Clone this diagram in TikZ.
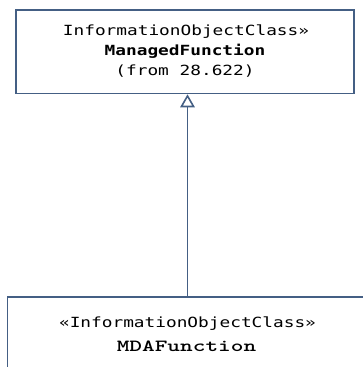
\documentclass[tikz,border=0pt]{standalone}
\usepackage{fontspec}
\setmonofont{DejaVu Sans Mono}[FakeStretch=1.27]
\newfontfamily\courierfont{lmmonolt10-bold.otf}[FakeStretch=1.42]
\usetikzlibrary{positioning, arrows.meta}
\definecolor{umlline}{RGB}{68,95,132}

\begin{document}
\begin{tikzpicture}[x=1pt, y=-1pt, >=latex]
  \tikzstyle{classbox} = [rectangle, draw=umlline, line width=1.6pt, inner sep=0pt]
  \tikzstyle{stereo} = [anchor=base, inner sep=0pt, font=\ttfamily\fontsize{14}{16}\selectfont]
  \tikzstyle{classname} = [anchor=base, inner sep=0pt, font=\ttfamily\bfseries\fontsize{14}{16}\selectfont]
  \tikzstyle{mdaname} = [anchor=base, inner sep=0pt, font=\courierfont\fontsize{17}{19}\selectfont]
  \tikzstyle{generalize} = [draw=umlline, line width=1.6pt, -{Triangle[open, width=14.5pt, length=13pt]}]

  \useasboundingbox (0,0) rectangle (363,367);
  \clip (0,0) rectangle (363,367);

  \node (managed) [classbox, minimum width=338pt, minimum height=83.5pt] at (185,51.75) {};
  \node (managedstereo) [stereo] at (186,35) {InformationObjectClass»};
  \node (managedname) [classname] at (185,55) {ManagedFunction};
  \node (managedfrom) [stereo] at (185,75) {(from 28.622)};

  \node (mda) [classbox, minimum width=392.5pt, minimum height=123pt] at (203.75,358.5) {};
  \node (mdastereo) [stereo] at (187.5,327.5) {«InformationObjectClass»};
  \node (mdaname) [mdaname] at (186.5,351) {MDAFunction};

  \draw [generalize] ([xshift=2.5pt]managed.south |- mda.north) -- ([xshift=2.5pt]managed.south);

\end{tikzpicture}
\end{document}
